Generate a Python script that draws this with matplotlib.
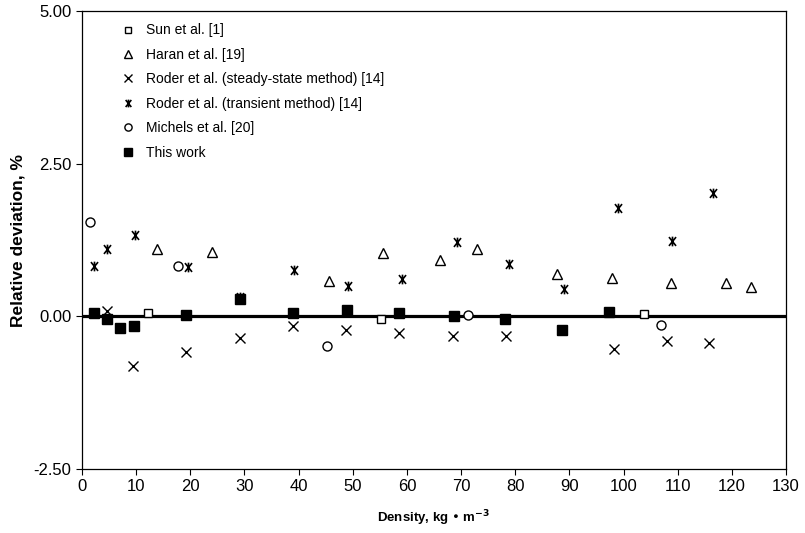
import matplotlib
matplotlib.use('Agg')
import matplotlib.pyplot as plt
from matplotlib.path import Path

plt.rcParams['font.family'] = ['Liberation Sans', 'DejaVu Sans']

# Sun et al. [1]
sun_x = [12.1, 55.3, 103.7]
sun_y = [0.06, -0.05, 0.04]
# Haran et al. [19]
haran_x = [13.9, 24.0, 45.6, 55.5, 66.1, 73.0, 87.8, 97.9, 108.7, 118.9, 123.5]
haran_y = [1.10, 1.05, 0.58, 1.03, 0.92, 1.11, 0.70, 0.62, 0.54, 0.55, 0.48]
# Roder et al. steady-state [14]
steady_x = [4.7, 9.5, 19.2, 29.1, 39.0, 48.8, 58.5, 68.5, 78.3, 88.6, 98.3, 108.0, 115.7]
steady_y = [0.08, -0.82, -0.59, -0.35, -0.16, -0.23, -0.27, -0.32, -0.32, -0.22, -0.53, -0.41, -0.44]
# Roder et al. transient [14]
trans_x = [2.2, 4.7, 9.8, 19.5, 29.2, 39.2, 49.1, 59.0, 69.2, 78.9, 89.0, 99.0, 109.0, 116.6]
trans_y = [0.82, 1.11, 1.33, 0.81, 0.32, 0.76, 0.50, 0.61, 1.21, 0.85, 0.45, 1.78, 1.23, 2.02]
# Michels et al. [20]
mich_x = [1.5, 17.7, 45.2, 71.2, 106.9]
mich_y = [1.55, 0.83, -0.49, 0.03, -0.14]
# This work
work_x = [2.2, 4.7, 7.1, 9.6, 19.2, 29.2, 38.9, 48.9, 58.5, 68.6, 78.2, 88.6, 97.3]
work_y = [0.06, -0.05, -0.19, -0.16, 0.02, 0.28, 0.06, 0.11, 0.06, 0.0, -0.05, -0.22, 0.07]

# X with a vertical bar, like the Excel star marker
star = Path([(-0.8, -1), (0.8, 1), (-0.8, 1), (0.8, -1), (0, -1.1), (0, 1.1)],
            [Path.MOVETO, Path.LINETO, Path.MOVETO, Path.LINETO, Path.MOVETO, Path.LINETO])

fig = plt.figure(figsize=(8.05, 5.33), dpi=100)
ax = fig.add_axes([0.1019, 0.12, 0.8745, 0.8594])

ax.axhline(0, color='black', lw=2.3, zorder=1)

ax.plot(sun_x, sun_y, 's', ms=6, mfc='white', mec='black', mew=1, ls='none', label='Sun et al. [1]', zorder=3)
ax.plot(haran_x, haran_y, '^', ms=6.5, mfc='white', mec='black', mew=1, ls='none', label='Haran et al. [19]', zorder=3)
ax.plot(steady_x, steady_y, 'x', ms=6.5, color='black', mew=1, ls='none',
        label='Roder et al. (steady-state method) [14]', zorder=3)
ax.plot(trans_x, trans_y, marker=star, ms=7, color='black', mew=1.2, ls='none',
        label='Roder et al. (transient method) [14]', zorder=3)
ax.plot(mich_x, mich_y, 'o', ms=6.5, mfc='white', mec='black', mew=1, ls='none', label='Michels et al. [20]', zorder=3)
ax.plot(work_x, work_y, 's', ms=7, color='black', ls='none', label='This work', zorder=4)

ax.set_xlim(0, 130)
ax.set_ylim(-2.5, 5.0)
ax.set_xticks(range(0, 131, 10))
ax.set_yticks([-2.5, 0.0, 2.5, 5.0])
ax.set_yticklabels(['-2.50', '0.00', '2.50', '5.00'])
ax.tick_params(direction='out', length=4, labelsize=12, width=0.8)
for s in ax.spines.values():
    s.set_linewidth(0.9)

ax.set_ylabel('Relative deviation, %', fontsize=12.5, fontweight='bold', labelpad=6)
ax.set_xlabel(r'Density, kg • m$^{\mathbf{-3}}$', fontsize=9.5, fontweight='bold', labelpad=10)

ax.legend(loc='upper left', bbox_to_anchor=(0.037, 1.0), frameon=False, fontsize=10,
          handlelength=1.0, handletextpad=0.8, labelspacing=0.75, numpoints=1, markerscale=0.8)

fig.savefig('out.png', dpi=100)
